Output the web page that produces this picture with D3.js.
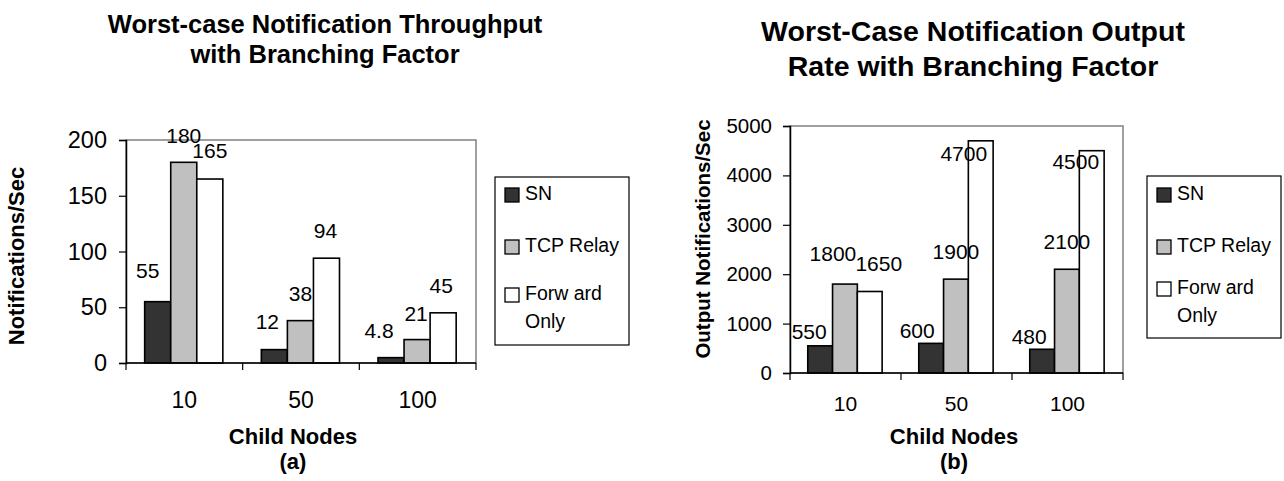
<!DOCTYPE html>
<html>
<head>
<meta charset="utf-8">
<script src="https://cdn.jsdelivr.net/npm/d3@7"></script>
<style>
  body { margin: 0; background: #fff; }
  svg { display: block; font-family: Arial, "Liberation Sans", sans-serif; }
</style>
</head>
<body>
<svg id="chart" width="1284" height="481"></svg>
<script>
// data
const categories = ["10", "50", "100"];
const seriesNames = ["SN", "TCP Relay", "Forward Only"];
const legendLines = [["SN"], ["TCP Relay"], ["Forw ard", "Only"]];
const seriesColors = ["#333333", "#c0c0c0", "#ffffff"];

const throughputSN = [55, 12, 4.8];
const throughputTCP = [180, 38, 21];
const throughputFwd = [165, 94, 45];
const throughputTicks = [0, 50, 100, 150, 200];

const outputSN = [550, 600, 480];
const outputTCP = [1800, 1900, 2100];
const outputFwd = [1650, 4700, 4500];
const outputTicks = [0, 1000, 2000, 3000, 4000, 5000];

// the data labels were hand-placed in the original, these are the nudges [dx, dy]
const nudgeA = [[[-10, -4], [-7, -1], [-12, 0]], [[0, 1], [0, 0], [-1, 1]], [[0, -1], [-1, 0], [-2, 0]]];
const nudgeB = [[[-11, 13], [-14, 15], [-13, 15]], [[-12, -3], [0, 0], [0, 0]], [[9, 0], [-17, 40], [-16, 38]]];

const svg = d3.select("#chart");

function drawChart(cfg) {
    const g = svg.append("g");
    const series = [cfg.sn, cfg.tcp, cfg.fwd];

    const x0 = d3.scaleBand().domain(categories).range([cfg.left, cfg.right]);
    const bw = x0.bandwidth();
    const x1 = d3.scaleBand().domain(seriesNames).range([bw * 0.16, bw * 0.83]);
    const y = d3.scaleLinear().domain([0, cfg.max]).range([cfg.bottom, cfg.top]);

    // plot area border (gray top/right)
    g.append("rect")
        .attr("x", cfg.left).attr("y", cfg.top)
        .attr("width", cfg.right - cfg.left).attr("height", cfg.bottom - cfg.top)
        .attr("fill", "none").attr("stroke", "#808080").attr("stroke-width", 1.5);

    // bars
    series.forEach((vals, si) => {
        g.selectAll(null).data(vals).enter().append("rect")
            .attr("x", (d, i) => x0(categories[i]) + x1(seriesNames[si]))
            .attr("y", d => y(d))
            .attr("width", x1.bandwidth())
            .attr("height", d => cfg.bottom - y(d))
            .attr("fill", seriesColors[si])
            .attr("stroke", "#000").attr("stroke-width", 1.6);
    });

    // y axis
    const yAxis = d3.axisLeft(y).tickValues(cfg.ticks).tickSize(7).tickPadding(cfg.tickPad)
        .tickFormat(d3.format("d"));
    const ya = g.append("g").attr("transform", `translate(${cfg.left},0)`).call(yAxis);
    ya.select(".domain").attr("stroke", "#000").attr("stroke-width", 1.5);
    ya.selectAll(".tick line").attr("stroke", "#000").attr("stroke-width", 1.2);
    ya.selectAll(".tick text").attr("font-size", cfg.yTickSize).attr("fill", "#000")
        .attr("font-family", "Arial, 'Liberation Sans', sans-serif");

    // x axis line with ticks at the category boundaries
    g.append("line")
        .attr("x1", cfg.left).attr("x2", cfg.right)
        .attr("y1", cfg.bottom).attr("y2", cfg.bottom)
        .attr("stroke", "#000").attr("stroke-width", 1.5);
    const bounds = categories.map(c => x0(c)).concat([cfg.right]);
    g.selectAll(null).data(bounds).enter().append("line")
        .attr("x1", d => d).attr("x2", d => d)
        .attr("y1", cfg.bottom).attr("y2", cfg.bottom + 7)
        .attr("stroke", "#000").attr("stroke-width", 1.2);
    g.selectAll(null).data(categories).enter().append("text")
        .attr("x", d => x0(d) + bw / 2)
        .attr("y", cfg.bottom + cfg.xLabelOff)
        .attr("text-anchor", "middle")
        .attr("font-size", cfg.xTickSize)
        .text(d => d);

    // data labels
    series.forEach((vals, si) => {
        g.selectAll(null).data(vals).enter().append("text")
            .attr("x", (d, i) => x0(categories[i]) + x1(seriesNames[si]) + x1.bandwidth() / 2 + cfg.nudge[si][i][0])
            .attr("y", (d, i) => y(d) - 20 + cfg.nudge[si][i][1])
            .attr("text-anchor", "middle")
            .attr("font-size", 21)
            .text(d => d);
    });

    // titles
    cfg.title.forEach((t, i) => {
        g.append("text")
            .attr("x", cfg.titleX).attr("y", cfg.titleY[i])
            .attr("text-anchor", "middle")
            .attr("font-weight", "bold").attr("font-size", cfg.titleSize)
            .text(t);
    });

    g.append("text")
        .attr("x", cfg.xTitleX).attr("y", 444)
        .attr("text-anchor", "middle")
        .attr("font-weight", "bold").attr("font-size", 22)
        .text("Child Nodes");
    g.append("text")
        .attr("x", cfg.xTitleX).attr("y", 469)
        .attr("text-anchor", "middle")
        .attr("font-weight", "bold").attr("font-size", 22)
        .text(cfg.caption);

    g.append("text")
        .attr("transform", `translate(${cfg.yTitleX},${cfg.yTitleY}) rotate(-90)`)
        .attr("text-anchor", "middle")
        .attr("dominant-baseline", "central")
        .attr("font-weight", "bold").attr("font-size", cfg.yTitleSize)
        .text(cfg.yTitle);

    // legend
    const lg = cfg.legend;
    g.append("rect")
        .attr("x", lg.x).attr("y", lg.y).attr("width", lg.w).attr("height", lg.h)
        .attr("fill", "#fff").attr("stroke", "#000").attr("stroke-width", 1.2);
    legendLines.forEach((lines, si) => {
        const base = lg.rows[si];
        g.append("rect")
            .attr("x", lg.x + 10).attr("y", base - 12)
            .attr("width", 14).attr("height", 14)
            .attr("fill", seriesColors[si]).attr("stroke", "#000").attr("stroke-width", 1.3);
        lines.forEach((ln, li) => {
            g.append("text")
                .attr("x", lg.x + 30).attr("y", base + li * 28)
                .attr("font-size", 19.5)
                .text(ln);
        });
    });
}

drawChart({
    sn: throughputSN, tcp: throughputTCP, fwd: throughputFwd,
    ticks: throughputTicks, max: 200,
    left: 126, right: 476, top: 140, bottom: 363,
    tickPad: 12, yTickSize: 23.5, xTickSize: 23, xLabelOff: 45,
    nudge: nudgeA,
    title: ["Worst-case Notification Throughput", "with Branching Factor"],
    titleX: 325, titleY: [33, 63], titleSize: 25.5,
    xTitleX: 293, caption: "(a)",
    yTitle: "Notifications/Sec", yTitleX: 16, yTitleY: 256, yTitleSize: 22,
    legend: { x: 495, y: 177, w: 134, h: 168, rows: [200, 252, 300] }
});

drawChart({
    sn: outputSN, tcp: outputTCP, fwd: outputFwd,
    ticks: outputTicks, max: 5000,
    left: 790, right: 1123, top: 126, bottom: 373,
    tickPad: 11, yTickSize: 20.5, xTickSize: 21, xLabelOff: 38,
    nudge: nudgeB,
    title: ["Worst-Case Notification Output", "Rate with Branching Factor"],
    titleX: 973, titleY: [41, 76], titleSize: 28.5,
    xTitleX: 954, caption: "(b)",
    yTitle: "Output Notifications/Sec", yTitleX: 702, yTitleY: 239, yTitleSize: 20.5,
    legend: { x: 1147, y: 176, w: 134, h: 162, rows: [200, 252, 294] }
});
</script>
</body>
</html>
